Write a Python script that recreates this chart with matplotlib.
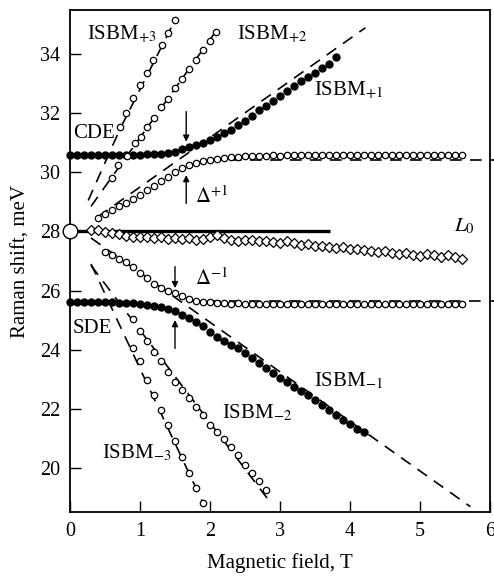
import numpy as np
import matplotlib
matplotlib.use("Agg")
import matplotlib.pyplot as plt

plt.rcParams["font.family"] = ["Liberation Serif", "DejaVu Serif"]
plt.rcParams["mathtext.fontset"] = "stix"

# ---- data ----
# ISBM+1 / CDE branch (filled circles)
isbm_p1_x = np.round(np.arange(0.0, 3.81, 0.1), 2)
isbm_p1_y = [30.6, 30.6, 30.6, 30.6, 30.6, 30.6, 30.6, 30.6, 30.6, 30.6,
             30.6, 30.62, 30.63, 30.64, 30.66, 30.7, 30.78, 30.85, 30.92, 31.0,
             31.1, 31.2, 31.33, 31.45, 31.6, 31.75, 31.92, 32.1, 32.25, 32.42,
             32.58, 32.75, 32.92, 33.08, 33.23, 33.38, 33.52, 33.66, 33.9]

# Delta+1 branch (open circles)
dp1_x = np.round(np.arange(0.4, 5.61, 0.1), 2)
dp1_y = [28.45, 28.6, 28.72, 28.85, 28.98, 29.1, 29.25, 29.4, 29.55, 29.7,
         29.85, 30.0, 30.15, 30.25, 30.32, 30.37, 30.42, 30.45, 30.48, 30.51,
         30.53, 30.55, 30.56, 30.57, 30.57, 30.58, 30.57, 30.58, 30.59, 30.58,
         30.58, 30.59, 30.58, 30.58, 30.59, 30.58, 30.58, 30.59, 30.58, 30.58,
         30.59, 30.58, 30.58, 30.58, 30.59, 30.58, 30.58, 30.58, 30.59, 30.58,
         30.58, 30.59, 30.58]

# ISBM+2 and ISBM+3 (open circles)
isbm_p2_x = [0.6, 0.69, 0.82, 0.93, 1.02, 1.1, 1.2, 1.3, 1.4, 1.5, 1.6, 1.7, 1.8, 1.9, 2.0, 2.09]
isbm_p2_y = [29.8, 30.25, 30.55, 30.99, 31.2, 31.55, 31.85, 32.2, 32.5, 32.85, 33.15, 33.5, 33.8, 34.15, 34.45, 34.77]
isbm_p3_x = [0.71, 0.8, 0.9, 1.0, 1.1, 1.19, 1.31, 1.4, 1.5]
isbm_p3_y = [31.55, 32.0, 32.51, 32.96, 33.36, 33.81, 34.31, 34.71, 35.16]

# L0 branch (diamonds)
l0_x = np.round(np.arange(0.3, 5.61, 0.1), 2)
l0_y = [28.05, 28.05, 27.98, 27.95, 27.93, 27.85, 27.82, 27.8, 27.82, 27.78,
        27.8, 27.76, 27.78, 27.74, 27.77, 27.72, 27.76, 27.8, 27.88, 27.78,
        27.72, 27.68, 27.72, 27.7, 27.67, 27.68, 27.64, 27.62, 27.68, 27.6,
        27.55, 27.58, 27.52, 27.5, 27.48, 27.45, 27.47, 27.42, 27.4, 27.38,
        27.35, 27.3, 27.33, 27.28, 27.25, 27.27, 27.22, 27.18, 27.25, 27.2,
        27.15, 27.2, 27.12, 27.08]

# Delta-1 branch (open circles)
dm1_x = np.round(np.arange(0.5, 5.61, 0.1), 2)
dm1_y = [27.3, 27.2, 27.08, 26.95, 26.8, 26.6, 26.42, 26.22, 26.08, 25.98,
         25.9, 25.82, 25.72, 25.66, 25.62, 25.6, 25.58, 25.57, 25.56, 25.57,
         25.56, 25.55, 25.56, 25.55, 25.56, 25.55, 25.55, 25.56, 25.55, 25.55,
         25.56, 25.55, 25.55, 25.56, 25.55, 25.55, 25.55, 25.56, 25.55, 25.55,
         25.55, 25.56, 25.55, 25.55, 25.55, 25.56, 25.55, 25.55, 25.55, 25.55,
         25.55, 25.55]

# ISBM-1 / SDE branch (filled circles)
isbm_m1_x = np.round(np.arange(0.0, 4.21, 0.1), 2)
isbm_m1_y = [25.6, 25.6, 25.6, 25.6, 25.6, 25.6, 25.6, 25.59, 25.58, 25.57,
             25.55, 25.5, 25.47, 25.43, 25.37, 25.3, 25.18, 25.06, 24.95, 24.8,
             24.6, 24.42, 24.28, 24.15, 24.05, 23.88, 23.7, 23.55, 23.38, 23.2,
             23.05, 22.9, 22.75, 22.6, 22.45, 22.28, 22.12, 21.95, 21.8, 21.62,
             21.48, 21.32, 21.2]

# ISBM-2 and ISBM-3 (open circles)
isbm_m2_x = np.round(np.arange(0.9, 2.81, 0.1), 2)
isbm_m2_y = [25.03, 24.64, 24.28, 23.93, 23.6, 23.23, 22.91, 22.63, 22.35, 22.06,
             21.78, 21.44, 21.2, 20.98, 20.7, 20.42, 20.08, 19.82, 19.55, 19.25]
isbm_m3_x = np.round(np.arange(0.9, 1.91, 0.1), 2)
isbm_m3_y = [24.04, 23.62, 22.97, 22.45, 21.95, 21.45, 20.9, 20.37, 19.82, 19.3, 18.8]

# dashed guide lines (end points)
guides = {
    "p1": ([0.4, 4.22], [28.5, 34.9]),
    "p2": ([0.3, 2.12], [28.85, 34.9]),
    "p3": ([0.26, 0.71, 1.52], [29.05, 31.45, 35.25]),
    "m1": ([0.3, 5.72], [27.78, 18.68]),
    "m2": ([0.3, 2.87], [26.85, 18.8]),
    "m3": ([0.3, 1.92], [26.9, 18.7]),
}
flat_guides = {"dp1": ([2.0, 6.05], [30.42, 30.42]), "dm1": ([1.7, 6.05], [25.66, 25.66])}

# solid L0 line and its start
l0_line_x = [0.0, 3.72]
l0_line_y = [28.0, 28.0]

fig = plt.figure(figsize=(4.94, 5.79), dpi=100)
ax = fig.add_axes([70 / 494, 1 - 512 / 579, 420 / 494, 502 / 579])

dash_kw = dict(color="black", lw=1.2, dashes=(7, 5))
for gx, gy in guides.values():
    ax.plot(gx, gy, **dash_kw)
for gx, gy in flat_guides.values():
    ax.plot(gx, gy, clip_on=False, **dash_kw)

ax.plot(l0_line_x, l0_line_y, color="black", lw=2.4, solid_capstyle="butt")

open_kw = dict(ls="none", marker="o", ms=4.6, mfc="white", mec="black", mew=0.9)
fill_kw = dict(ls="none", marker="o", ms=5.0, mfc="black", mec="black", clip_on=False)

ax.plot(isbm_p1_x, isbm_p1_y, **fill_kw)
ax.plot(isbm_m1_x, isbm_m1_y, **fill_kw)
ax.plot(dp1_x, dp1_y, **open_kw)
ax.plot(dm1_x, dm1_y, **open_kw)
ax.plot(isbm_p2_x, isbm_p2_y, **open_kw)
ax.plot(isbm_p3_x, isbm_p3_y, **open_kw)
ax.plot(isbm_m2_x, isbm_m2_y, **open_kw)
ax.plot(isbm_m3_x, isbm_m3_y, **open_kw)
ax.plot(l0_x, l0_y, ls="none", marker="D", ms=4.6, mfc="white", mec="black", mew=0.9)
ax.plot([0], [28.0], ls="none", marker="o", ms=10.5, mfc="white", mec="black", mew=1.0,
        clip_on=False, zorder=5)

# arrows marking the anticrossings
arr = dict(arrowstyle="-|>", color="black", lw=1.0, mutation_scale=9, shrinkA=0, shrinkB=0)
ax.annotate("", xy=(1.66, 31.04), xytext=(1.66, 32.06), arrowprops=arr)
ax.annotate("", xy=(1.66, 29.91), xytext=(1.66, 28.95), arrowprops=arr)
ax.annotate("", xy=(1.5, 26.08), xytext=(1.5, 26.81), arrowprops=arr)
ax.annotate("", xy=(1.5, 25.0), xytext=(1.5, 24.04), arrowprops=arr)

fs = 15
ax.text(0.24, 34.51, r"ISBM$_{+3}$", fontsize=fs)
ax.text(2.38, 34.51, r"ISBM$_{+2}$", fontsize=fs)
ax.text(3.49, 32.62, r"ISBM$_{+1}$", fontsize=fs)
ax.text(0.04, 31.16, "CDE", fontsize=fs)
ax.text(1.79, 28.95, r"$\Delta^{+1}$", fontsize=fs)
ax.text(5.48, 27.99, r"$L_0$", fontsize=fs)
ax.text(1.79, 26.19, r"$\Delta^{-1}$", fontsize=fs)
ax.text(0.04, 24.57, "SDE", fontsize=fs)
ax.text(3.49, 22.77, r"ISBM$_{-1}$", fontsize=fs)
ax.text(2.17, 21.67, r"ISBM$_{-2}$", fontsize=fs)
ax.text(0.45, 20.32, r"ISBM$_{-3}$", fontsize=fs)

ax.set_xlim(0, 6)
ax.set_ylim(18.5, 35.5)
ax.set_xticks(range(0, 7))
ax.set_yticks(range(20, 35, 2))
ax.tick_params(direction="in", length=8, width=1.0, labelsize=14.5, pad=7)
for s in ax.spines.values():
    s.set_linewidth(1.3)

ax.set_xlabel("Magnetic field, T", fontsize=15, labelpad=9)
ax.set_ylabel("Raman shift, meV", fontsize=15, labelpad=7)

fig.savefig("out.png", dpi=100)
